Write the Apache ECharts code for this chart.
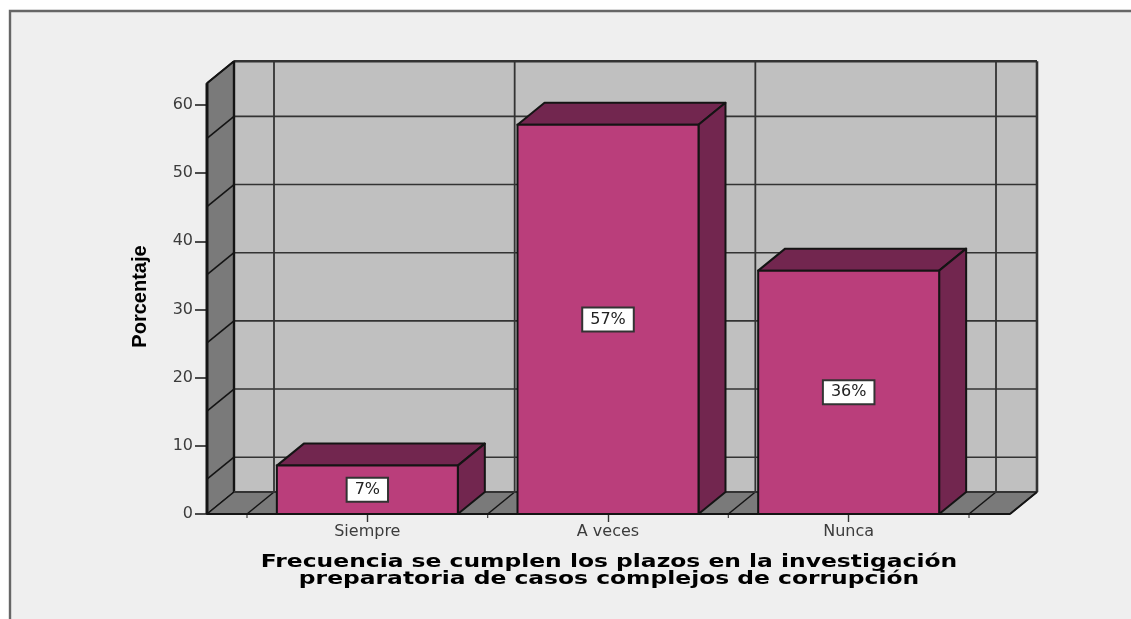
<!DOCTYPE html>
<html>
<head>
<meta charset="utf-8">
<style>html,body{margin:0;padding:0;background:#fff}#chart{width:1131px;height:619px}</style>
<script src="https://cdn.jsdelivr.net/npm/echarts@6/dist/echarts.min.js"></script>
</head>
<body>
<div id="chart"></div>
<script>
const categories = ['Siempre', 'A veces', 'Nunca'];
const percentages = [7.1, 57.1, 35.7];
const valueTicks = [0, 10, 20, 30, 40, 50, 60];
const wallGridValues = [5.1, 15.1, 25.1, 35.1, 45.1, 55.1];
const wallTopValue = 63.2;
const xAxisTitle = 'Frecuencia se cumplen los plazos en la investigación\npreparatoria de casos complejos de corrupción';
const yAxisTitle = 'Porcentaje';

const DX = 27, DY = 22, PAD_L = 40, PAD_R = 41;
const C = {panel:'#efefef', wall:'#c0c0c0', side:'#7a7a7a', front:'#ba3e7b', dark:'#72264f', line:'#141414', grid:'#333333'};

function seg(x1, y1, x2, y2, w, color) {
  return {type:'line', shape:{x1, y1, x2, y2}, style:{stroke:color || C.line, lineWidth:w || 1}};
}
function poly(points, fill, lw) {
  return {type:'polygon', shape:{points}, style:{fill, stroke:C.line, lineWidth:lw || 1, lineJoin:'round'}};
}

function renderFrame(params, api) {
  const y0 = api.coord([0, 0])[1];
  const yTop = api.coord([0, wallTopValue])[1];
  const band = api.size([1, 0])[0];
  const xs = categories.map((c, i) => api.coord([i, 0])[0]);
  const left = xs[0] - band / 2 - PAD_L;
  const right = xs[xs.length - 1] + band / 2 + PAD_R;
  const edges = xs.map(x => x - band / 2).concat([xs[xs.length - 1] + band / 2]);
  const ch = [];
  ch.push({type:'rect', shape:{x:left + DX, y:yTop - DY, width:right - left, height:y0 - yTop}, style:{fill:C.wall}});
  ch.push(poly([[left, y0], [left + DX, y0 - DY], [left + DX, yTop - DY], [left, yTop]], C.side, 1.5));
  ch.push(poly([[left, y0], [right, y0], [right + DX, y0 - DY], [left + DX, y0 - DY]], C.side, 1.5));
  wallGridValues.forEach(v => {
    const y = api.coord([0, v])[1];
    ch.push(seg(left + DX, y - DY, right + DX, y - DY, 1.6, C.grid));
    ch.push(seg(left, y, left + DX, y - DY, 1.6, C.line));
  });
  edges.forEach(x => {
    ch.push(seg(x + DX, yTop - DY, x + DX, y0 - DY, 1.8, C.grid));
    ch.push(seg(x, y0, x + DX, y0 - DY, 1.5, C.line));
    ch.push(seg(x, y0, x, y0 + 4, 1.2, '#444444'));
  });
  ch.push(seg(left + DX, yTop - DY, right + DX, yTop - DY, 2.4, C.grid));
  ch.push(seg(right + DX, yTop - DY, right + DX, y0 - DY, 2.6, C.grid));
  ch.push(seg(left + DX, yTop - DY, left + DX, y0 - DY, 2.4, C.line));
  ch.push(seg(left + DX, y0 - DY, right + DX, y0 - DY, 2.2, C.grid));
  ch.push(seg(left, yTop, left + DX, yTop - DY, 2, C.line));
  ch.push(seg(left, yTop, left, y0, 3, C.line));
  ch.push(seg(left, y0, right, y0, 2.2, C.line));
  ch.push(seg(right, y0, right + DX, y0 - DY, 1.8, C.line));
  return {type:'group', children:ch};
}

function renderBar(params, api) {
  const i = api.value(0), v = api.value(1);
  const c = api.coord([i, 0]);
  const t = api.coord([i, v]);
  const w = api.size([1, 0])[0] * 0.752;
  const l = c[0] - w / 2, r = c[0] + w / 2;
  return {type:'group', children:[
    poly([[l, t[1]], [r, t[1]], [r + DX, t[1] - DY], [l + DX, t[1] - DY]], C.dark, 2),
    poly([[r, t[1]], [r + DX, t[1] - DY], [r + DX, c[1] - DY], [r, c[1]]], C.dark, 2),
    {type:'rect', shape:{x:l, y:t[1], width:w, height:c[1] - t[1]}, style:{fill:C.front, stroke:C.line, lineWidth:2}},
    {type:'text', style:{
      text:Math.round(v) + '%', x:c[0], y:(c[1] + t[1]) / 2, align:'center', verticalAlign:'middle',
      fontFamily:'DejaVu Sans', fontSize:16, fill:'#222222', backgroundColor:'#ffffff',
      borderColor:'#333333', borderWidth:2, padding:[3, 7]
    }}
  ]};
}

const chart = echarts.init(document.getElementById('chart'), null, {renderer:'canvas'});
chart.setOption({
  animation:false,
  backgroundColor:'#ffffff',
  graphic:[
    {type:'rect', z:-10, shape:{x:9, y:11, width:1122, height:608}, style:{fill:C.panel}},
    {type:'polyline', z:-9, shape:{points:[[10, 619], [10, 11], [1131, 11]]}, style:{stroke:'#666666', fill:null, lineWidth:2.4}},
    {type:'text', z:10, x:609, y:571, scaleX:1.3, scaleY:1,
      style:{text:xAxisTitle, align:'center', verticalAlign:'middle', fontFamily:'DejaVu Sans', fontWeight:'bold', fontSize:18, lineHeight:17.5, fill:'#000000'}}
  ],
  grid:{left:247, top:105, width:722, height:409},
  xAxis:{
    type:'category', data:categories,
    axisLine:{show:false},
    axisTick:{show:true, alignWithLabel:true, length:8, lineStyle:{color:'#333333', width:1.4}},
    axisLabel:{fontFamily:'DejaVu Sans', fontSize:16, color:'#3c3c3c', margin:10}
  },
  yAxis:{
    type:'value', min:valueTicks[0], max:valueTicks[valueTicks.length - 1], interval:10, offset:40,
    axisLine:{show:false},
    axisTick:{show:true, length:12, lineStyle:{color:'#222222', width:1.6}},
    axisLabel:{fontFamily:'DejaVu Sans', fontSize:16, color:'#3c3c3c', margin:14},
    splitLine:{show:false},
    name:yAxisTitle, nameLocation:'middle', nameGap:57, nameMoveOverlap:false,
    nameTextStyle:{fontFamily:'Liberation Sans', fontWeight:'bold', fontSize:20, color:'#000000', padding:[0, 0, 0, 26]}
  },
  series:[
    {type:'custom', z:2, silent:true, clip:false, data:[[0, 0]], encode:{x:0, y:1}, renderItem:renderFrame},
    {type:'custom', z:3, silent:true, clip:false, data:percentages.map((v, i) => [i, v]), encode:{x:0, y:1}, renderItem:renderBar}
  ]
});
</script>
</body>
</html>
